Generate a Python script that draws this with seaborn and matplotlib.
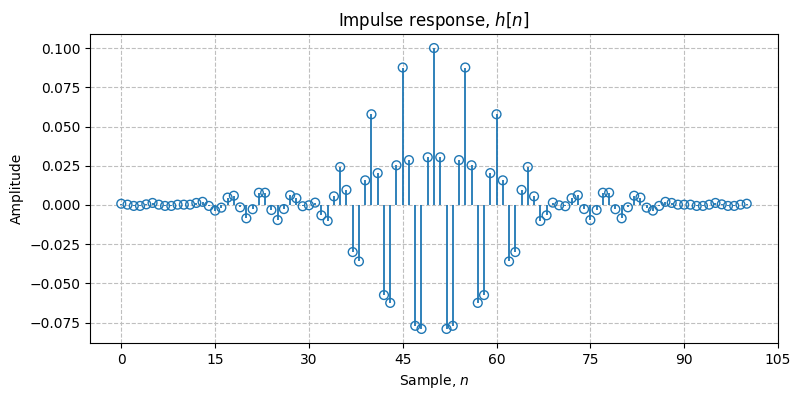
import numpy as np
import pandas as pd
import matplotlib
matplotlib.use("Agg")
import matplotlib.pyplot as plt
import seaborn as sns

# impulse response values (101 taps, symmetric about n=50)
h_left = [0.0008, 0.0002, -0.0006, -0.0006, 0.0004, 0.0013, 0.0002, -0.0006, -0.0006, 0.0002,
          0.0002, 0.0002, 0.0013, 0.0020, -0.0006, -0.0036, -0.0017, 0.0047, 0.0059, -0.0015,
          -0.0085, -0.0027, 0.0078, 0.0078, -0.0032, -0.0096, -0.0026, 0.0062, 0.0043, -0.0008,
          -0.0002, 0.0015, -0.0066, -0.0102, 0.0055, 0.0242, 0.0096, -0.0300, -0.0360, 0.0157,
          0.0578, 0.0203, -0.0574, -0.0624, 0.0253, 0.0876, 0.0286, -0.0770, -0.0790, 0.0304]
h_center = [0.1000]
h_right = [0.0304, -0.0790, -0.0770, 0.0286, 0.0876, 0.0253, -0.0624, -0.0574, 0.0203, 0.0578,
           0.0157, -0.0360, -0.0300, 0.0096, 0.0242, 0.0055, -0.0102, -0.0066, 0.0015, -0.0002,
           -0.0008, 0.0043, 0.0062, -0.0026, -0.0096, -0.0032, 0.0078, 0.0078, -0.0027, -0.0085,
           -0.0015, 0.0059, 0.0047, -0.0017, -0.0036, -0.0006, 0.0020, 0.0013, 0.0002, 0.0002,
           0.0002, -0.0006, -0.0006, 0.0002, 0.0013, 0.0004, -0.0006, -0.0006, 0.0002, 0.0008]
x_ticks = [0, 15, 30, 45, 60, 75, 90, 105]

h = h_left + h_center + h_right
df = pd.DataFrame({"n": np.arange(len(h)), "h": h})

fig = plt.figure(figsize=(8, 4), dpi=100)
ax = plt.gca()
ax.vlines(df["n"], 0, df["h"], color="C0", linewidth=1.3, zorder=2)
sns.scatterplot(data=df, x="n", y="h", ax=ax, marker="o", s=40,
                facecolor="none", edgecolor="C0", linewidth=1.0, zorder=3)
ax.set_xlim(-5, 105)
ax.set_xticks(x_ticks)
ax.grid(True, linestyle="--", color="0.75", linewidth=0.8)
ax.set_axisbelow(True)
plt.title("Impulse response, $h[n]$")
plt.xlabel("Sample, $n$")
plt.ylabel("Amplitude")
fig.subplots_adjust(left=0.1125, right=0.9725, top=0.915, bottom=0.1425)
plt.savefig("out.png")
